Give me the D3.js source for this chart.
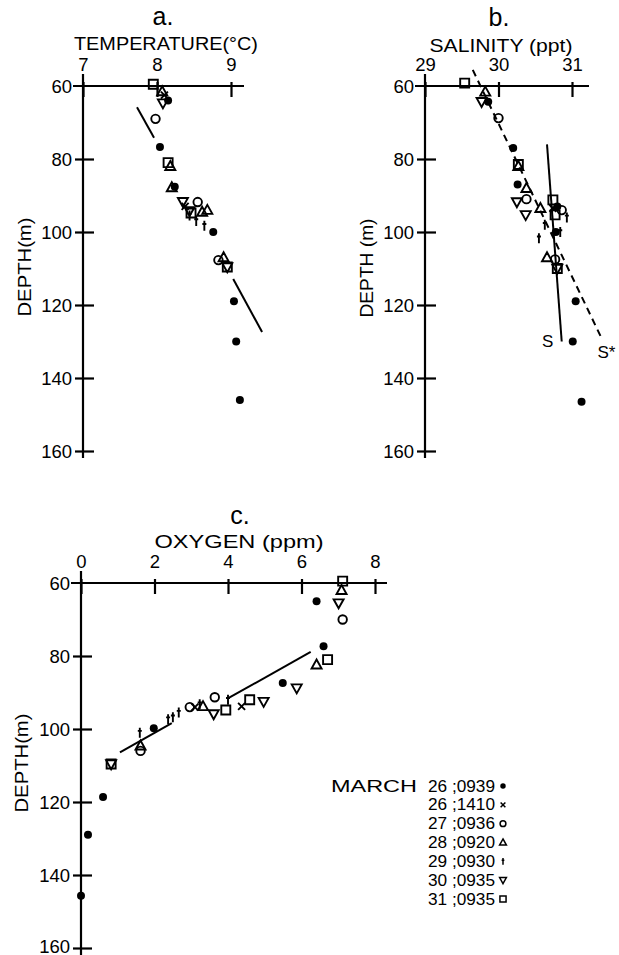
<!DOCTYPE html>
<html><head><meta charset="utf-8">
<script src="https://cdn.jsdelivr.net/npm/d3@7"></script>
<style>
body{margin:0;background:#fff;}
text{font-family:"Liberation Sans",Arial,Helvetica,sans-serif;fill:#000;}
</style></head>
<body>
<svg id="chart" width="619" height="955"></svg>
<script>
// ---------- DATA ----------
const depthTicks = [60, 80, 100, 120, 140, 160];
const tempTicks = [7, 8, 9];
const salTicks = [29, 30, 31];
const oxyTicks = [0, 2, 4, 6, 8];
const legendDates = ["26 ;0939", "26 ;1410", "27 ;0936", "28 ;0920", "29 ;0930", "30 ;0935", "31 ;0935"];
const legendSymbols = ["dot", "x", "circle", "triangle", "dagger", "down", "square"];

// temperature (°C, depth m)
const tempDot = [[8.15,64],[8.04,76.7],[8.24,87.6],[8.76,100],[9.04,119],[9.07,130],[9.12,146]];
const tempX = [[8.1,62.5],[8.38,93]];
const tempCircle = [[7.98,69],[8.55,91.8],[8.83,107.7]];
const tempTriangle = [[8.07,61.5],[8.18,82],[8.2,87.8],[8.61,94.5],[8.68,94],[8.9,107]];
const tempDagger = [[8.44,95.5],[8.53,97],[8.64,98.3]];
const tempDown = [[8.08,64.7],[8.35,91.7],[8.44,94.2],[8.95,109.6]];
const tempSquare = [[7.95,59.5],[8.15,81],[8.46,94.8],[8.95,109.6]];
const tempLines = [[[7.73,65.8],[7.96,74.2]], [[9.03,112.9],[9.42,127.4]]];

// salinity (ppt, depth m)
const salDot = [[29.86,64.3],[30.2,77],[30.26,87],[30.8,93],[30.78,100],[31.05,119],[31.01,130],[31.13,146.5]];
const salX = [[30.74,93.5]];
const salCircle = [[30.0,68.8],[30.38,91],[30.86,94],[30.77,107.5]];
const salTriangle = [[29.82,61.6],[30.27,82],[30.38,88],[30.57,93.5],[30.66,107]];
const salDagger = [[30.93,96],[30.63,98],[30.55,101.7],[30.84,100]];
const salDown = [[29.77,64.3],[30.25,91.8],[30.37,95.3],[30.8,110]];
const salSquare = [[29.54,59.2],[30.27,81.5],[30.74,91.2],[30.77,95.3],[30.8,110]];
const salLineS = [[30.66,76],[30.86,130]];
const salLineSstar = [[29.65,55.6],[31.4,129]];

// oxygen (ppm, depth m)
const oxyDot = [[6.41,65],[6.6,77.3],[5.49,87.4],[1.98,99.8],[0.6,118.6],[0.19,129],[0,145.7]];
const oxyX = [[4.37,93.8],[3.1,94]];
const oxyCircle = [[7.12,70],[3.64,91.3],[2.96,94],[1.62,106]];
const oxyTriangle = [[7.09,62],[6.41,82.4],[3.32,93.8],[1.62,104.6]];
const oxyDagger = [[4.0,92],[3.23,93.2],[2.66,95.5],[2.5,96.8],[2.37,97.3],[1.6,101]];
const oxyDown = [[7.01,65.5],[5.87,88.8],[4.97,92.5],[3.61,95.9],[0.82,109.6]];
const oxySquare = [[7.12,59.5],[6.71,81],[4.59,92],[3.94,94.8],[0.82,109.6]];
const oxyLines = [[[1.06,106.4],[2.47,98.4]], [[4.02,91.5],[6.25,78.9]]];

// ---------- DRAWING ----------
const svg = d3.select("#chart");

function symPath(type, s) {
  switch (type) {
    case "triangle": return `M0,${-s*1.05}L${s},${s*0.75}L${-s},${s*0.75}Z`;
    case "down": return `M0,${s*1.05}L${s},${-s*0.75}L${-s},${-s*0.75}Z`;
    case "square": return `M${-s*0.9},${-s*0.9}H${s*0.9}V${s*0.9}H${-s*0.9}Z`;
    case "x": return `M${-s*0.7},${-s*0.7}L${s*0.7},${s*0.7}M${-s*0.7},${s*0.7}L${s*0.7},${-s*0.7}`;
    case "dagger": return `M0,${-s}L0,${s}M${-s*0.4},${-s*0.35}L${s*0.4},${-s*0.35}`;
  }
}
function drawSym(g, type, x, y, s, sw) {
  if (type === "dot") {
    g.append("circle").attr("cx", x).attr("cy", y).attr("r", s*0.8).attr("fill", "#000");
  } else if (type === "circle") {
    g.append("circle").attr("cx", x).attr("cy", y).attr("r", s*0.85).attr("fill", "none")
      .attr("stroke", "#000").attr("stroke-width", sw);
  } else {
    g.append("path").attr("transform", `translate(${x},${y})`).attr("d", symPath(type, s))
      .attr("fill", "none").attr("stroke", "#000").attr("stroke-width", sw);
  }
}

function panel(cfg) {
  const g = svg.append("g");
  const x = d3.scaleLinear().domain(cfg.xDomain).range(cfg.xRange);
  const y = d3.scaleLinear().domain([60, 160]).range(cfg.yRange);
  g.append("line").attr("x1", x(cfg.xDomain[0])).attr("x2", x(cfg.xDomain[0]))
    .attr("y1", y(60) - 12).attr("y2", cfg.yEnd).attr("stroke", "#000").attr("stroke-width", 2.2);
  g.append("line").attr("x1", x(cfg.xDomain[0]) - 10).attr("x2", cfg.xEnd)
    .attr("y1", y(60)).attr("y2", y(60)).attr("stroke", "#000").attr("stroke-width", 2.2);
  const ax = g.append("g").attr("transform", `translate(0,${y(60)})`)
    .call(d3.axisTop(x).tickValues(cfg.xTicks).tickSize(4).tickPadding(11).tickFormat(d3.format("d")));
  ax.select(".domain").remove();
  ax.attr("font-family", null).attr("font-size", null);
  ax.selectAll(".tick line").attr("y1", 11).attr("y2", -4).attr("stroke-width", 2.2);
  ax.selectAll(".tick text").attr("font-size", 18.5).attr("dy", "0");
  const ay = g.append("g").attr("transform", `translate(${x(cfg.xDomain[0])},0)`)
    .call(d3.axisLeft(y).tickValues(depthTicks).tickSize(8).tickPadding(3).tickFormat(d3.format("d")));
  ay.select(".domain").remove();
  ay.attr("font-family", null).attr("font-size", null);
  ay.selectAll(".tick line").attr("x1", 11).attr("x2", -8).attr("stroke-width", 2.2);
  ay.selectAll(".tick text").attr("font-size", 18.5).attr("dy", "0.33em");
  if (cfg.lastDy) ay.selectAll(".tick").filter(d => d === 160).select("text").attr("dy", cfg.lastDy);
  ay.selectAll(".tick").filter(d => d === 60).select("line").remove();
  g.append("text").attr("x", cfg.titleX).attr("y", cfg.titleY).attr("text-anchor", "middle")
    .attr("font-size", 25).text(cfg.title);
  g.append("text").attr("x", cfg.labX).attr("y", cfg.labY).attr("text-anchor", "middle")
    .attr("font-size", 18).attr("textLength", cfg.labLen).attr("lengthAdjust", "spacingAndGlyphs").text(cfg.label);
  g.append("text").attr("transform", `translate(${cfg.dX},${cfg.dY}) rotate(-90)`)
    .attr("text-anchor", "middle").attr("font-size", 18)
    .attr("textLength", 99).attr("lengthAdjust", "spacingAndGlyphs").text(cfg.depthLabel);
  const line = d3.line().x(d => x(d[0])).y(d => y(d[1]));
  (cfg.lines || []).forEach(l => {
    g.append("path").attr("d", line(l.pts)).attr("fill", "none").attr("stroke", "#000")
      .attr("stroke-width", 2).attr("stroke-dasharray", l.dash || null);
  });
  cfg.series.forEach(s => {
    s.data.forEach(d => drawSym(g, s.type, x(d[0]), y(d[1]), 5, 1.9));
  });
  return {g, x, y};
}

panel({
  xDomain: [7, 9], xRange: [83, 231], yRange: [86, 451], xTicks: tempTicks,
  yEnd: 458, xEnd: 244,
  title: "a.", titleX: 163, titleY: 25,
  label: "TEMPERATURE(°C)", labX: 166, labY: 50, labLen: 184,
  dX: 31, dY: 267, depthLabel: "DEPTH(m)",
  lines: tempLines.map(p => ({pts: p})),
  series: [
    {type: "dot", data: tempDot}, {type: "x", data: tempX}, {type: "circle", data: tempCircle},
    {type: "triangle", data: tempTriangle}, {type: "dagger", data: tempDagger},
    {type: "down", data: tempDown}, {type: "square", data: tempSquare}
  ]
});

const pb = panel({
  xDomain: [29, 31], xRange: [425, 572], yRange: [86, 451], xTicks: salTicks,
  yEnd: 458, xEnd: 589,
  title: "b.", titleX: 499, titleY: 26,
  label: "SALINITY (ppt)", labX: 501, labY: 52, labLen: 143,
  dX: 373, dY: 268, depthLabel: "DEPTH (m)",
  lines: [{pts: salLineS}, {pts: salLineSstar, dash: "7,5"}],
  series: [
    {type: "dot", data: salDot}, {type: "x", data: salX}, {type: "circle", data: salCircle},
    {type: "triangle", data: salTriangle}, {type: "dagger", data: salDagger},
    {type: "down", data: salDown}, {type: "square", data: salSquare}
  ]
});
const sEnd = salLineS[1], ssEnd = salLineSstar[1];
pb.g.append("text").attr("x", pb.x(sEnd[0]) - 14).attr("y", pb.y(sEnd[1]) + 5)
  .attr("text-anchor", "middle").attr("font-size", 17).text("S");
pb.g.append("text").attr("x", pb.x(ssEnd[0]) - 4).attr("y", pb.y(ssEnd[1]) + 20)
  .attr("font-size", 17).text("S*");

panel({
  xDomain: [0, 8], xRange: [81, 375], yRange: [583, 948], xTicks: oxyTicks,
  yEnd: 955, xEnd: 387,
  title: "c.", titleX: 240, titleY: 524,
  label: "OXYGEN (ppm)", labX: 239, labY: 548, labLen: 169,
  dX: 28, dY: 763, depthLabel: "DEPTH(m)", lastDy: "0.22em",
  lines: oxyLines.map(p => ({pts: p})),
  series: [
    {type: "dot", data: oxyDot}, {type: "x", data: oxyX}, {type: "circle", data: oxyCircle},
    {type: "triangle", data: oxyTriangle}, {type: "dagger", data: oxyDagger},
    {type: "down", data: oxyDown}, {type: "square", data: oxySquare}
  ]
});

// legend
const lg = svg.append("g");
const rowY = d3.scaleLinear().domain([0, legendDates.length - 1]).range([786, 899]);
lg.append("text").attr("x", 331).attr("y", rowY(0) + 5.5).attr("font-size", 16)
  .attr("textLength", 86).attr("lengthAdjust", "spacingAndGlyphs").text("MARCH");
legendDates.forEach((t, i) => {
  lg.append("text").attr("x", 428).attr("y", rowY(i) + 5.5).attr("font-size", 16)
    .attr("textLength", 67).attr("lengthAdjust", "spacingAndGlyphs").text(t);
  drawSym(lg, legendSymbols[i], 503, rowY(i), 3.4, 1.5);
});
</script>
</body></html>
